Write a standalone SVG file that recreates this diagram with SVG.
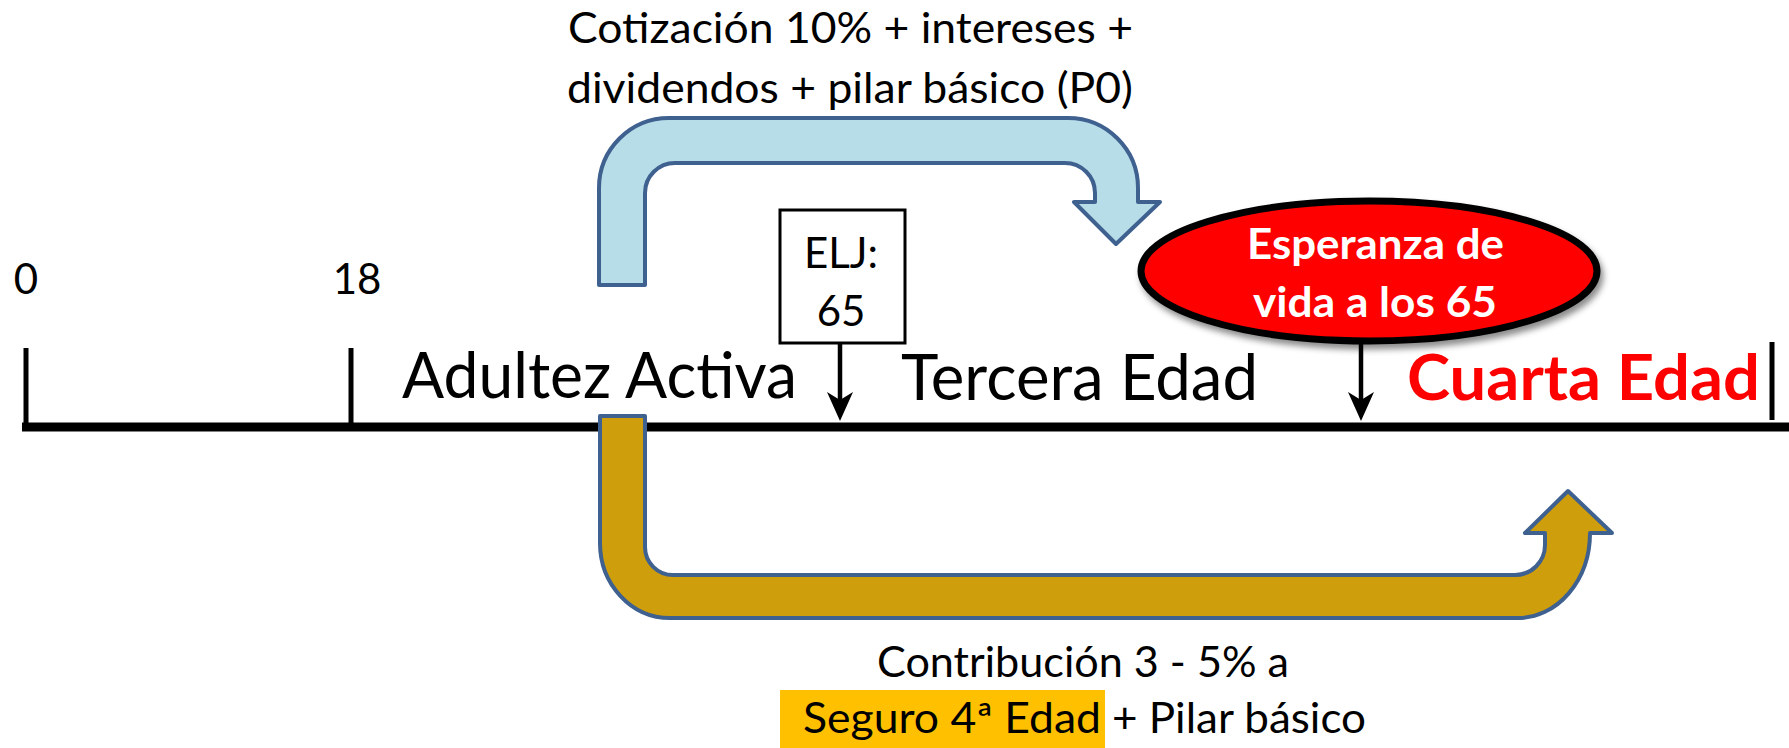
<svg xmlns="http://www.w3.org/2000/svg" width="1789" height="748" viewBox="0 0 1789 748">
<style>
.t{font-family:Lato,"Open Sans","Liberation Sans",sans-serif;fill:#000}
.m{font-size:42px}
.b{font-size:63px}
.bold{font-weight:bold}
.bend{stroke:#3F6190;stroke-width:4;stroke-linejoin:round}
.axis{stroke:#000;fill:none}
</style>
<defs>
<filter id="sh" x="-10%" y="-20%" width="130%" height="150%">
<feDropShadow dx="3" dy="5" stdDeviation="3" flood-color="#000" flood-opacity="0.45"/>
</filter>
</defs>
<g id="timeline">
<line class="axis" x1="22" y1="427" x2="1789" y2="427" stroke-width="9"/>
<line class="axis" x1="26" y1="348" x2="26" y2="427" stroke-width="5"/>
<line class="axis" x1="351" y1="348" x2="351" y2="427" stroke-width="5"/>
<line class="axis" x1="1772" y1="342" x2="1772" y2="420" stroke-width="5"/>
<text class="t m" x="26" y="294" text-anchor="middle">0</text>
<text class="t m" x="357" y="294" text-anchor="middle">18</text>
<text class="t b" x="402" y="398" textLength="395" lengthAdjust="spacingAndGlyphs">Adultez Activa</text>
<text class="t b" x="901" y="400" textLength="357" lengthAdjust="spacingAndGlyphs">Tercera Edad</text>
<text class="t b bold" x="1407" y="400" textLength="353" lengthAdjust="spacingAndGlyphs" style="fill:#FF0000">Cuarta Edad</text>
</g>
<g id="top-label">
<text class="t m" x="568" y="43" textLength="565" lengthAdjust="spacingAndGlyphs">Cotización 10% + intereses  +</text>
<text class="t m" x="567" y="103" textLength="566" lengthAdjust="spacingAndGlyphs">dividendos + pilar básico (P0)</text>
</g>
<g id="blue-arrow">
<path class="bend" fill="#B7DDE8" d="M 599 285 L 599 188 A 70 70 0 0 1 669 118 L 1068 118 A 70 70 0 0 1 1138 188 L 1138 202 L 1160 202 L 1116 244 L 1074 202 L 1095 202 L 1095 193 A 30 30 0 0 0 1065 163 L 675 163 A 30 30 0 0 0 645 193 L 645 285 Z"/>
</g>
<g id="elj">
<rect x="780" y="210" width="125" height="133" fill="#FFFFFF" stroke="#000" stroke-width="3"/>
<text class="t m" x="841" y="268" text-anchor="middle">ELJ:</text>
<text class="t m" x="841" y="326" text-anchor="middle">65</text>
</g>
<g id="esperanza">
<ellipse cx="1369" cy="271" rx="228" ry="70" fill="#FF0000" stroke="#000" stroke-width="7" filter="url(#sh)"/>
<text class="t m bold" x="1247" y="259" textLength="257" lengthAdjust="spacingAndGlyphs" style="fill:#FFFFFF">Esperanza de</text>
<text class="t m bold" x="1253" y="317" textLength="244" lengthAdjust="spacingAndGlyphs" style="fill:#FFFFFF">vida a los 65</text>
</g>
<g id="gold-arrow">
<path class="bend" fill="#CF9E0C" d="M 600 416 L 600 543 A 70 75 0 0 0 670 618 L 1518 618 A 72 85 0 0 0 1590 533 L 1612 533 L 1568 491 L 1525 533 L 1545 533 L 1545 545 A 30 30 0 0 1 1515 575 L 673 575 A 28 28 0 0 1 645 547 L 645 416 Z"/>
</g>
<g id="bottom-label">
<rect x="780" y="690" width="325" height="58" fill="#FFC000"/>
<text class="t m" x="877" y="677" textLength="412" lengthAdjust="spacingAndGlyphs">Contribución 3 - 5% a</text>
<text class="t m" x="803" y="733" textLength="298" lengthAdjust="spacingAndGlyphs">Seguro 4ª Edad</text>
<text class="t m" x="1112" y="733" textLength="254" lengthAdjust="spacingAndGlyphs">+ Pilar básico</text>
</g>
<g id="connectors">
<line x1="840" y1="343" x2="840" y2="405" stroke="#000" stroke-width="4.5"/>
<polygon points="840,421 827,392 840,400 853,392" fill="#000"/>
<line x1="1361" y1="341" x2="1361" y2="405" stroke="#000" stroke-width="4.5"/>
<polygon points="1361,421 1348,392 1361,400 1374,392" fill="#000"/>
</g>
</svg>
